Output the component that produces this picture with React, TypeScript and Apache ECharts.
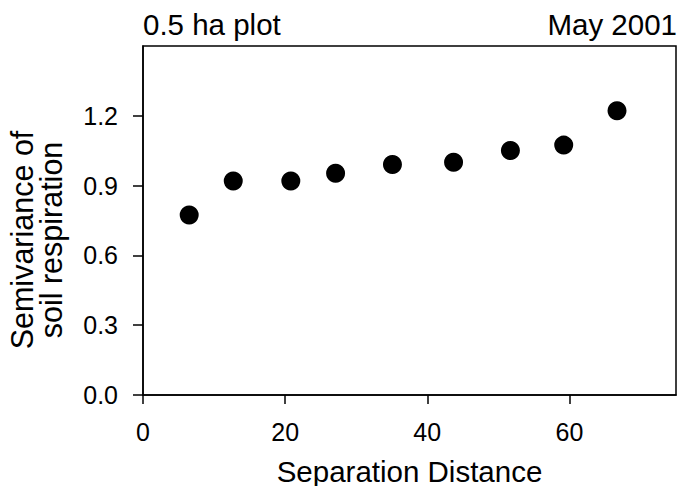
import React, { useEffect, useRef } from "react";
import * as echarts from "echarts";

const distances = [6.5, 12.7, 20.8, 27.1, 35.1, 43.7, 51.7, 59.2, 66.7];
const semivariance = [0.774, 0.92, 0.92, 0.953, 0.991, 1.0, 1.051, 1.074, 1.222];
const xTicks = [0, 20, 40, 60];
const yTicks = [0, 0.3, 0.6, 0.9, 1.2];
const titleLeft = "0.5 ha plot";
const titleRight = "May 2001";
const xName = "Separation Distance";
const yNameLines = ["Semivariance of", "soil respiration"];

const FONT = '"Liberation Sans", Arial, Helvetica, sans-serif';

export default function App() {
  const ref = useRef<HTMLDivElement>(null);
  useEffect(() => {
    if (!ref.current) return;
    const chart = echarts.init(ref.current, undefined, { renderer: "svg" });
    chart.setOption({
      animation: false,
      backgroundColor: "#fff",
      textStyle: { fontFamily: FONT, color: "#000" },
      grid: {
        left: 143,
        right: 2,
        top: 46,
        bottom: 91,
        outerBoundsMode: "none",
        containLabel: false,
        show: true,
        borderColor: "#000",
        borderWidth: 1.5,
        backgroundColor: "transparent",
      },
      xAxis: {
        type: "value",
        min: 0,
        max: 75,
        interval: 20,
        name: xName,
        nameLocation: "middle",
        nameGap: 61,
        nameTextStyle: { fontSize: 29.5, color: "#000", fontFamily: FONT },
        axisLine: { show: true, lineStyle: { color: "#000", width: 1.5 } },
        axisTick: { show: true, length: 9, lineStyle: { color: "#000", width: 1.5 }, customValues: xTicks },
        axisLabel: { fontSize: 25, color: "#000", margin: 24, fontFamily: FONT, customValues: xTicks },
        splitLine: { show: false },
      },
      yAxis: {
        type: "value",
        min: 0,
        max: 1.5,
        interval: 0.3,
        axisLine: { show: true, lineStyle: { color: "#000", width: 1.5 } },
        axisTick: { show: true, length: 10, lineStyle: { color: "#000", width: 1.5 }, customValues: yTicks },
        axisLabel: {
          fontSize: 25,
          color: "#000",
          margin: 25,
          fontFamily: FONT,
          customValues: yTicks,
          formatter: (v: number) => v.toFixed(1),
        },
        splitLine: { show: false },
      },
      graphic: [
        {
          type: "text",
          left: 143,
          top: 9,
          style: { text: titleLeft, font: `29.5px ${FONT}`, fill: "#000" },
        },
        {
          type: "text",
          right: 1,
          top: 9,
          style: { text: titleRight, font: `29.5px ${FONT}`, fill: "#000" },
        },
        {
          type: "text",
          x: 22,
          y: 240,
          rotation: Math.PI / 2,
          style: {
            text: yNameLines[0],
            font: `30.5px ${FONT}`,
            fill: "#000",
            textAlign: "center",
            textVerticalAlign: "middle",
          },
        },
        {
          type: "text",
          x: 51,
          y: 240,
          rotation: Math.PI / 2,
          style: {
            text: yNameLines[1],
            font: `30.5px ${FONT}`,
            fill: "#000",
            textAlign: "center",
            textVerticalAlign: "middle",
          },
        },
      ],
      series: [
        {
          type: "scatter",
          symbol: "circle",
          symbolSize: 19,
          itemStyle: { color: "#000", opacity: 1 },
          data: distances.map((d, i) => [d, semivariance[i]]),
        },
      ],
    });
    return () => chart.dispose();
  }, []);
  return (
    <div
      ref={ref}
      style={{ position: "fixed", left: 0, top: 0, width: 678, height: 486 }}
    />
  );
}
